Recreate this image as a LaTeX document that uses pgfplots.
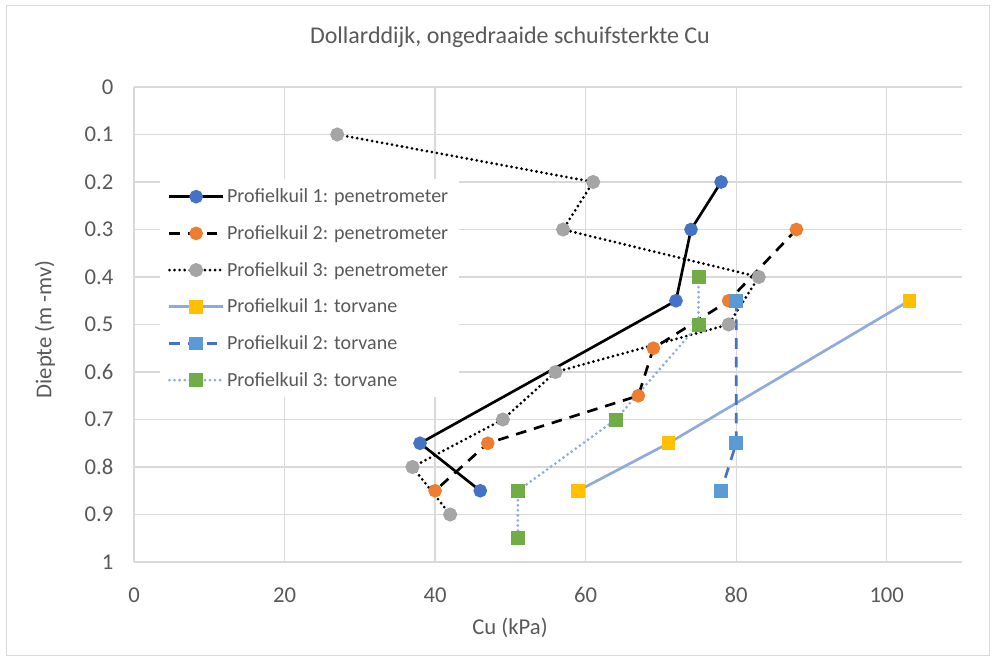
\documentclass[border=0pt]{standalone}
\usepackage{pgfplots}
\pgfplotsset{compat=1.18}
\usepackage{fontspec}
\setmainfont{Carlito}

\definecolor{txt}{HTML}{595959}
\definecolor{gridc}{HTML}{D9D9D9}
\definecolor{cblue}{HTML}{4472C4}
\definecolor{corange}{HTML}{ED7D31}
\definecolor{cgray}{HTML}{A5A5A5}
\definecolor{cyellow}{HTML}{FFC000}
\definecolor{clblue}{HTML}{5B9BD5}
\definecolor{cgreen}{HTML}{70AD47}
\definecolor{cline}{HTML}{8FAADC}

\begin{document}
\begin{tikzpicture}
\useasboundingbox (0pt,0pt) rectangle (747pt,495pt);
\draw[gridc, line width=0.75pt] (5pt,3pt) rectangle (742pt,491pt);
\node[text=txt, font=\fontsize{18}{20}\selectfont] at (382.5pt,467pt) {Dollarddijk, ongedraaide schuifsterkte Cu};
\node[text=txt, font=\fontsize{17}{19}\selectfont] at (382.5pt,24pt) {Cu (kPa)};
\node[text=txt, font=\fontsize{17}{19}\selectfont, rotate=90] at (33.75pt,248pt) {Diepte (m -mv)};
\begin{axis}[
    at={(100.5pt,73.5pt)}, anchor=south west,
    scale only axis, width=621pt, height=356.25pt,
    xmin=0, xmax=110, ymin=0, ymax=1,
    y dir=reverse,
    xtick={0,20,40,60,80,100},
    ytick={0,0.1,0.2,0.3,0.4,0.5,0.6,0.7,0.8,0.9,1},
    yticklabels={0,0.1,0.2,0.3,0.4,0.5,0.6,0.7,0.8,0.9,1},
    /pgf/number format/assume math mode=true,
    grid=major,
    major grid style={gridc, line width=1pt},
    axis line style={draw=none},
    major tick length=0pt,
    tick label style={text=txt, font=\fontsize{17}{19}\selectfont},
    xticklabel style={anchor=center, yshift=-25pt},
    yticklabel style={anchor=east, xshift=-12pt},
    legend cell align=left,
    legend style={at={(0.031,0.806)}, anchor=north west, draw=none, fill=white,
        font=\fontsize{15}{17}\selectfont, text=txt, row sep=11.6pt,
        inner xsep=6pt, inner ysep=5pt},
    legend image code/.code={\draw[mark repeat=2,mark phase=2] plot coordinates {(0pt,0pt)(20pt,0pt)(40pt,0pt)};},
]
\addplot[black, line width=2pt, mark=*, mark size=4.1pt, mark options={solid, fill=cblue, draw=cblue}] coordinates {
    (78,0.2) (74,0.3) (72,0.45) (38,0.75) (46,0.85)
};
\addlegendentry{Profielkuil 1: penetrometer}
\addplot[black, line width=2pt, dash pattern=on 8pt off 6pt, mark=*, mark size=4.1pt, mark options={solid, fill=corange, draw=corange}] coordinates {
    (88,0.3) (79,0.45) (69,0.55) (67,0.65) (47,0.75) (40,0.85)
};
\addlegendentry{Profielkuil 2: penetrometer}
\addplot[black, line width=2.3pt, line cap=round, dash pattern=on 0pt off 3.8pt, mark=*, mark size=4.1pt, mark options={solid, fill=cgray, draw=cgray}] coordinates {
    (27,0.1) (61,0.2) (57,0.3) (83,0.4) (79,0.5) (56,0.6) (49,0.7) (37,0.8) (42,0.9)
};
\addlegendentry{Profielkuil 3: penetrometer}
\addplot[cline, line width=2pt, mark=square*, mark size=4.1pt, mark options={solid, fill=cyellow, draw=cyellow}] coordinates {
    (103,0.45) (71,0.75) (59,0.85)
};
\addlegendentry{Profielkuil 1: torvane}
\addplot[cblue, line width=2pt, dash pattern=on 8pt off 6pt, mark=square*, mark size=4.1pt, mark options={solid, fill=clblue, draw=clblue}] coordinates {
    (80,0.45) (80,0.75) (78,0.85)
};
\addlegendentry{Profielkuil 2: torvane}
\addplot[cline, line width=2.3pt, line cap=round, dash pattern=on 0pt off 3.8pt, mark=square*, mark size=4.1pt, mark options={solid, fill=cgreen, draw=cgreen}] coordinates {
    (75,0.4) (75,0.5) (64,0.7) (51,0.85) (51,0.95)
};
\addlegendentry{Profielkuil 3: torvane}
\end{axis}
\end{tikzpicture}
\end{document}
